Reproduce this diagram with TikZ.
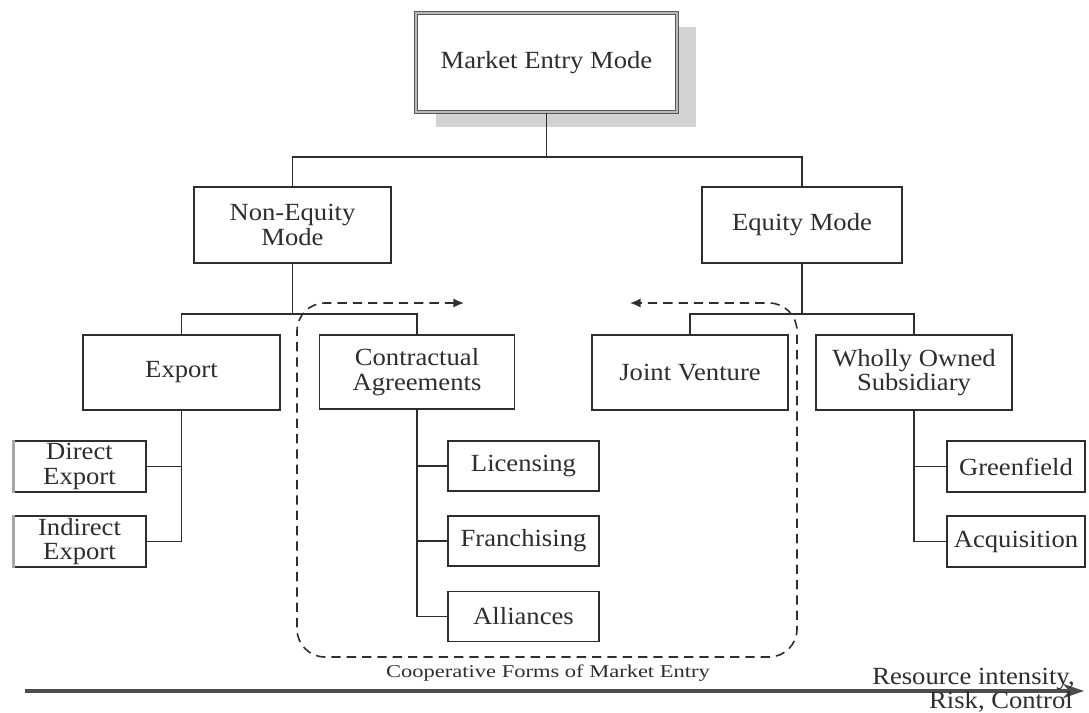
\documentclass[tikz,border=0pt]{standalone}
\usepackage{fontspec}
\setmainfont{Liberation Serif}[FakeStretch=1.08]
\newfontfamily\widefont{Liberation Serif}[FakeStretch=1.25]
\usetikzlibrary{arrows.meta}
\definecolor{ink}{HTML}{2E2E2E}
\tikzset{
  box/.style={draw=ink, line width=1.1pt, fill=white, text=ink, align=center, inner sep=0pt,
    font=\fontsize{18.5}{18.5}\selectfont},
  link/.style={draw=ink, line width=1.1pt},
  coop/.style={draw=ink, line width=1.2pt, dash pattern=on 7pt off 4.5pt, rounded corners=21pt,
    {Latex[length=8pt,width=7pt]}-{Latex[length=8pt,width=7pt]}},
  axis/.style={draw=ink!85, line width=2.4pt, -{Stealth[length=16pt,width=11pt]}},
  lbl/.style={text=ink, inner sep=0pt}
}
\begin{document}
\begin{tikzpicture}[x=0.75pt,y=-0.75pt]
\useasboundingbox (0,0) rectangle (1089,713);
% shadow of top box
\fill[gray!35] (436,27) rectangle (696,127);
\node[box, minimum width=195.75pt, minimum height=74.25pt, draw=ink!80, line width=0.9pt,
  double=gray!55, double distance=1.6pt] (mem) at (546.5,62.5) {Market Entry Mode};

\node[box, minimum width=147.75pt, minimum height=57pt] (ne) at (292.5,225) {Non-Equity\\Mode};
\node[box, minimum width=150pt, minimum height=57pt] (eq) at (802,225) {Equity Mode};

\node[box, minimum width=147.75pt, minimum height=56.25pt] (ex) at (181.5,372.5) {Export};
\node[box, minimum width=146.25pt, minimum height=55.5pt] (ca) at (417,372) {Contractual\\Agreements};
\node[box, minimum width=147pt, minimum height=56.25pt] (jv) at (690,372.5) {Joint Venture};
\node[box, minimum width=147pt, minimum height=56.25pt] (wo) at (914,372.5) {Wholly Owned\\Subsidiary};

\node[box, minimum width=99.75pt, minimum height=38.25pt] (de) at (79.5,466.5) {Direct\\Export};
\node[box, minimum width=99.75pt, minimum height=38.25pt] (ie) at (79.5,541.5) {Indirect\\Export};
\draw[gray!70, line width=2.2pt] ([xshift=1pt]de.north west) -- ([xshift=1pt]de.south west);
\draw[gray!70, line width=2.2pt] ([xshift=1pt]ie.north west) -- ([xshift=1pt]ie.south west);

\node[box, minimum width=113.25pt, minimum height=37.5pt] (li) at (523.5,466) {Licensing};
\node[box, minimum width=113.25pt, minimum height=37.5pt] (fr) at (523.5,541) {Franchising};
\node[box, minimum width=113.25pt, minimum height=37.5pt] (al) at (523.5,616.5) {Alliances};

\node[box, minimum width=103.5pt, minimum height=38.25pt] (gf) at (1016,466.5) {Greenfield};
\node[box, minimum width=103.5pt, minimum height=38.25pt] (aq) at (1016,541.5) {Acquisition};

% tree connectors
\coordinate (jt) at (546.5,157);
\coordinate (jne) at (292.5,314);
\coordinate (jeq) at (802,314);
\draw[link] (mem.south) -- (jt);
\draw[link] (ne.north) -- (ne.north |- jt) -- (eq.north |- jt) -- (eq.north);
\draw[link] (ne.south) -- (jne);
\draw[link] (ex.north) -- (ex.north |- jne) -- (ca.north |- jne) -- (ca.north);
\draw[link] (eq.south) -- (jeq);
\draw[link] (jv.north) -- (jv.north |- jeq) -- (wo.north |- jeq) -- (wo.north);
\draw[link] (ex.south) |- (de.east);
\draw[link] (ex.south) |- (ie.east);
\draw[link] (ca.south) |- (li.west);
\draw[link] (ca.south) |- (fr.west);
\draw[link] (ca.south) |- (al.west);
\draw[link] (wo.south) |- (gf.west);
\draw[link] (wo.south) |- (aq.west);

% cooperative dashed region
\coordinate (cl) at (464,303);
\coordinate (cr) at (630,303);
\draw[coop] (cl) -- (297,303) -- (297,657) -- (797,657) -- (797,303) -- (cr);
\node[lbl, font=\widefont\fontsize{13.5}{14}\selectfont] (coopl) at (548,673) {Cooperative Forms of Market Entry};

% axis
\coordinate (a0) at (25,691);
\coordinate (a1) at (1084,691);
\draw[axis] (a0) -- (a1);
\node[lbl, anchor=base east, font=\fontsize{18.5}{19}\selectfont] (ri) at (1075,684) {Resource intensity,};
\node[lbl, anchor=base east, font=\fontsize{18.5}{19}\selectfont] (rc) at (1073,708) {Risk, Control};
\end{tikzpicture}
\end{document}
